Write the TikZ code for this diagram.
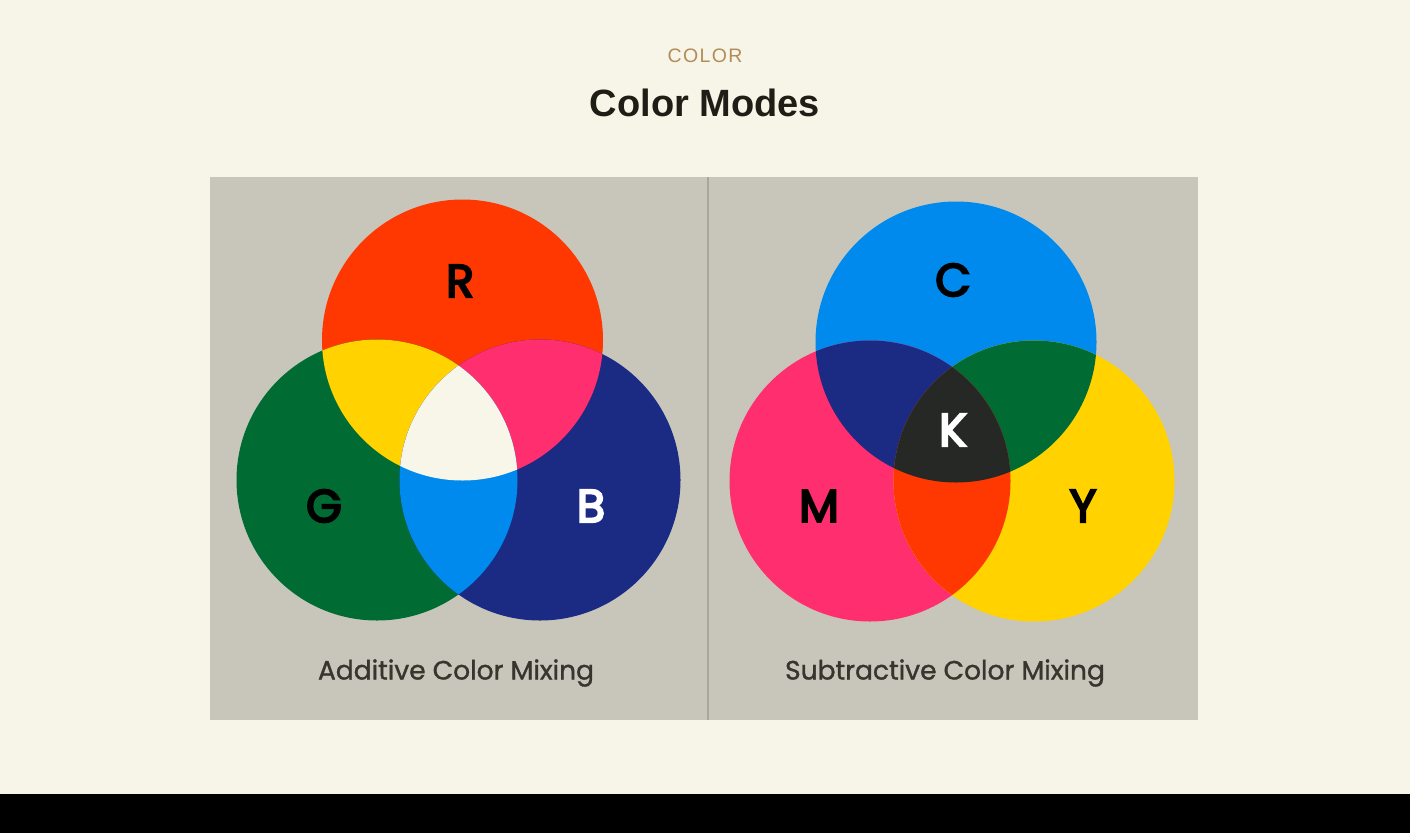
\documentclass[tikz,border=0pt]{standalone}
\usepackage{fontspec}
\setmainfont{Liberation Sans}
\newfontfamily\popfont{Poppins}
\newfontfamily\popmed{Poppins}[FakeBold=1.2]
\newfontfamily\popsemi{Poppins}[FakeBold=4.5]
\newfontfamily\kickerfont{Liberation Sans}[LetterSpace=7]
\definecolor{bgcream}{HTML}{F6F5E7}
\definecolor{panelgray}{HTML}{C8C6BA}
\definecolor{divgray}{HTML}{A9A79D}
\definecolor{cred}{HTML}{FE3800}
\definecolor{cgreen}{HTML}{006C33}
\definecolor{cblue}{HTML}{1B2B83}
\definecolor{cyellow}{HTML}{FFD200}
\definecolor{cmagenta}{HTML}{FF2E6E}
\definecolor{ccyan}{HTML}{008AEE}
\definecolor{cwhite}{HTML}{F8F6E8}
\definecolor{ckey}{HTML}{262826}
\definecolor{tan}{HTML}{B38C58}
\definecolor{titledark}{HTML}{1E1E16}
\definecolor{captiongray}{HTML}{36362F}
\tikzset{
  letter/.style={font=\popsemi\fontsize{46}{46}\selectfont, inner sep=0pt, anchor=center},
  caption/.style={font=\popmed\fontsize{26.5}{26.5}\selectfont, text=captiongray, inner sep=0pt, anchor=center},
}
\begin{document}
\begin{tikzpicture}[x=1pt,y=-1pt]
\useasboundingbox (0,0) rectangle (1410,833);
\fill[bgcream] (0,0) rectangle (1410,794);
\fill[black] (0,794) rectangle (1410,833);
% title
\node[font=\kickerfont\fontsize{19.5}{19.5}\selectfont, text=tan, inner sep=0pt] (kicker) at (705,56) {COLOR};
\node[font=\bfseries\fontsize{38}{38}\selectfont, text=titledark, inner sep=0pt] (title) at (705,103) {Color Modes};
% panel
\fill[panelgray] (210,177) rectangle (1198,720);
\draw[divgray, line width=1.5pt] (708,177) -- (708,720);
% ---------- additive ----------
\def\rr{140.5}
\coordinate (Rc) at (462.5,340);
\coordinate (Gc) at (377,480);
\coordinate (Bc) at (540,480);
\fill[cred] (Rc) circle (\rr);
\fill[cgreen] (Gc) circle (\rr);
\fill[cblue] (Bc) circle (\rr);
\begin{scope}
  \clip (Rc) circle (\rr);
  \fill[cyellow] (Gc) circle (\rr);
  \fill[cmagenta] (Bc) circle (\rr);
\end{scope}
\begin{scope}
  \clip (Gc) circle (\rr);
  \fill[ccyan] (Bc) circle (\rr);
  \clip (Bc) circle (\rr);
  \fill[cwhite] (Rc) circle (\rr);
\end{scope}
\node[letter, text=black] (lR) at (460,281) {R};
\node[letter, text=black] (lG) at (324,506) {G};
\node[letter, text=white] (lB) at (591,506) {B};
\node[caption] (capA) at (456,673) {Additive Color Mixing};
% ---------- subtractive ----------
\coordinate (Cc) at (956,342);
\coordinate (Mc) at (870,481);
\coordinate (Yc) at (1034,481);
\fill[ccyan] (Cc) circle (\rr);
\fill[cmagenta] (Mc) circle (\rr);
\fill[cyellow] (Yc) circle (\rr);
\begin{scope}
  \clip (Cc) circle (\rr);
  \fill[cblue] (Mc) circle (\rr);
  \fill[cgreen] (Yc) circle (\rr);
\end{scope}
\begin{scope}
  \clip (Mc) circle (\rr);
  \fill[cred] (Yc) circle (\rr);
  \clip (Yc) circle (\rr);
  \fill[ckey] (Cc) circle (\rr);
\end{scope}
\node[letter, text=black] (lC) at (953,280) {C};
\node[letter, text=black] (lM) at (819,506) {M};
\node[letter, text=black] (lY) at (1083,506) {Y};
\node[letter, text=white] (lK) at (953,430) {K};
\node[caption] (capS) at (945,673) {Subtractive Color Mixing};
\end{tikzpicture}
\end{document}
